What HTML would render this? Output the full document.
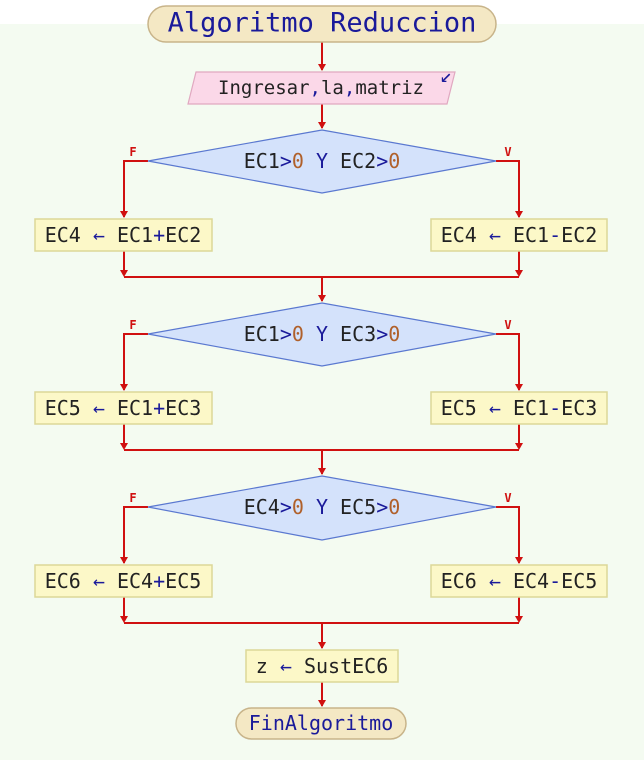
<!DOCTYPE html>
<html><head><meta charset="utf-8"><style>
html,body{margin:0;padding:0;background:#f4fbf1;}
svg{display:block}
text{font-family:"DejaVu Sans Mono","Liberation Mono",monospace;font-size:20px;fill:#222;dominant-baseline:central;text-anchor:middle}
.k{fill:#1a1a9a}.n{fill:#b0602a}.lb{fill:#d01010;font-size:12px;font-weight:bold}
.ln{stroke:#d01010;stroke-width:2;fill:none}
.box{fill:#fcf8c8;stroke:#dcd898;stroke-width:1.5}
.dia{fill:#d4e2fb;stroke:#5a78d0;stroke-width:1.2}
</style></head><body>
<svg width="644" height="760" viewBox="0 0 644 760">
<rect x="0" y="0" width="644" height="24" fill="#fff"/>
<g>
<path class="ln" d="M322,42 V70 M322,104 V128"/>
<path class="ln" d="M148,161 H124 V217 M496,161 H519 V217 M124,251 V275 M519,251 V275 M124,277 H519 M322,277 V301"/>
<path class="ln" d="M148,334 H124 V390 M496,334 H519 V390 M124,424 V448 M519,424 V448 M124,450 H519 M322,450 V474"/>
<path class="ln" d="M148,507 H124 V563 M496,507 H519 V563 M124,597 V621 M519,597 V621 M124,623 H519 M322,623 V648 M322,682 V706"/>
<g fill="#d01010">
<path d="M318,64 h8 l-4,7z"/><path d="M318,122 h8 l-4,7z"/>
<path d="M120,211 h8 l-4,7z"/><path d="M515,211 h8 l-4,7z"/><path d="M120,270 h8 l-4,7z"/><path d="M515,270 h8 l-4,7z"/><path d="M318,295 h8 l-4,7z"/>
<path d="M120,384 h8 l-4,7z"/><path d="M515,384 h8 l-4,7z"/><path d="M120,443 h8 l-4,7z"/><path d="M515,443 h8 l-4,7z"/><path d="M318,468 h8 l-4,7z"/>
<path d="M120,557 h8 l-4,7z"/><path d="M515,557 h8 l-4,7z"/><path d="M120,616 h8 l-4,7z"/><path d="M515,616 h8 l-4,7z"/><path d="M318,642 h8 l-4,7z"/><path d="M318,700 h8 l-4,7z"/>
</g></g>
<g><rect x="148" y="6" width="348" height="36" rx="18" fill="#f4e8c4" stroke="#c8b48a" stroke-width="1.5"/><text x="322" y="23" class="k" style="font-size:27px">Algoritmo Reduccion</text></g>
<g><polygon points="196,72 455,72 447,104 188,104" fill="#fbd8e8" stroke="#e0a8c0" stroke-width="1.2"/><text x="321" y="88" style="font-size:19px">Ingresar<tspan class="k">,</tspan>la<tspan class="k">,</tspan>matriz</text><text x="446" y="75" class="k" style="font-size:20px">↙</text></g>
<g><polygon class="dia" points="322,130 496,161 322,193 148,161"/><text x="322" y="161">EC1<tspan class="k">&gt;</tspan><tspan class="n">0</tspan> <tspan class="k">Y</tspan> EC2<tspan class="k">&gt;</tspan><tspan class="n">0</tspan></text><text class="lb" x="133" y="152">F</text><text class="lb" x="508" y="152">V</text></g>
<g><rect class="box" x="35" y="219" width="177" height="32"/><text x="123" y="235">EC4 <tspan class="k">←</tspan> EC1<tspan class="k">+</tspan>EC2</text></g>
<g><rect class="box" x="431" y="219" width="176" height="32"/><text x="519" y="235">EC4 <tspan class="k">←</tspan> EC1<tspan class="k">-</tspan>EC2</text></g>
<g><polygon class="dia" points="322,303 496,334 322,366 148,334"/><text x="322" y="334">EC1<tspan class="k">&gt;</tspan><tspan class="n">0</tspan> <tspan class="k">Y</tspan> EC3<tspan class="k">&gt;</tspan><tspan class="n">0</tspan></text><text class="lb" x="133" y="325">F</text><text class="lb" x="508" y="325">V</text></g>
<g><rect class="box" x="35" y="392" width="177" height="32"/><text x="123" y="408">EC5 <tspan class="k">←</tspan> EC1<tspan class="k">+</tspan>EC3</text></g>
<g><rect class="box" x="431" y="392" width="176" height="32"/><text x="519" y="408">EC5 <tspan class="k">←</tspan> EC1<tspan class="k">-</tspan>EC3</text></g>
<g><polygon class="dia" points="322,476 496,507 322,540 148,507"/><text x="322" y="507">EC4<tspan class="k">&gt;</tspan><tspan class="n">0</tspan> <tspan class="k">Y</tspan> EC5<tspan class="k">&gt;</tspan><tspan class="n">0</tspan></text><text class="lb" x="133" y="498">F</text><text class="lb" x="508" y="498">V</text></g>
<g><rect class="box" x="35" y="565" width="177" height="32"/><text x="123" y="581">EC6 <tspan class="k">←</tspan> EC4<tspan class="k">+</tspan>EC5</text></g>
<g><rect class="box" x="431" y="565" width="176" height="32"/><text x="519" y="581">EC6 <tspan class="k">←</tspan> EC4<tspan class="k">-</tspan>EC5</text></g>
<g><rect class="box" x="246" y="650" width="152" height="32"/><text x="322" y="666">z <tspan class="k">←</tspan> SustEC6</text></g>
<g><rect x="236" y="708" width="170" height="31" rx="15.5" fill="#f4e8c4" stroke="#c8b48a" stroke-width="1.5"/><text x="321" y="723" class="k">FinAlgoritmo</text></g>
</svg>
</body></html>
